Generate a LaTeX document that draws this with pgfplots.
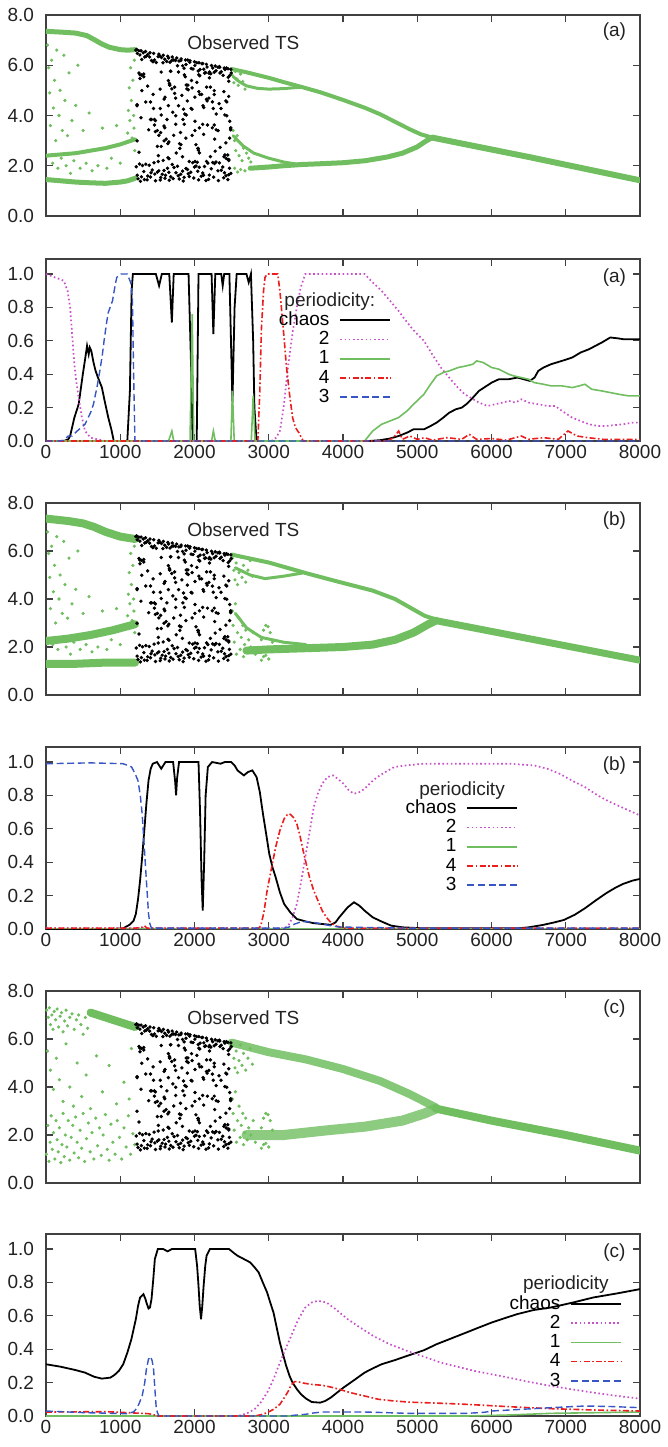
\documentclass[border=0pt]{standalone}
\usepackage{fontspec}
\setmainfont{Liberation Sans}
\usepackage{pgfplots}
\usepackage{pgfplotstable}
\pgfplotsset{compat=1.18}
\definecolor{gc}{RGB}{112,190,96}
\definecolor{mg}{RGB}{200,80,200}
\definecolor{rd}{RGB}{235,30,30}
\definecolor{bl}{RGB}{55,85,195}
\definecolor{axg}{RGB}{64,64,64}
\definecolor{txt}{RGB}{34,34,34}
\newcommand{\fs}{\fontsize{9.5}{11.4}\selectfont}

\pgfplotsset{
  base/.style={scale only axis, width=297pt, anchor=north west, xmin=0, xmax=8000,
    xtick={0,1000,2000,3000,4000,5000,6000,7000,8000},
    axis line style={axg, line width=0.65pt},
    tick style={axg, line width=0.6pt}, major tick length=3.5pt,
    tick label style={font=\fs, text=txt},
    yticklabel style={/pgf/number format/fixed, /pgf/number format/fixed zerofill,
      /pgf/number format/precision=1, /pgf/number format/assume math mode=true, xshift=-2.5pt},
    xticklabel style={/pgf/number format/1000 sep={}, /pgf/number format/assume math mode=true, yshift=1.5pt}},
  ts/.style={base, ymin=0, ymax=8, ytick={0,2,4,6,8}, xticklabels={}},
  pr/.style={base, ymin=0, ymax=1.09, ytick={0,0.2,0.4,0.6,0.8,1}, height=91pt,
    legend plot pos=right, legend cell align=right,
    legend style={draw=none, fill=none, font=\fs, inner sep=0pt, outer sep=0pt,
      row sep=0pt, column sep=4pt, nodes={inner sep=1pt, text height=6.4pt, text depth=1.2pt}},
    legend image code/.code={\draw[##1] (0pt,0pt) -- (25pt,0pt);}},
  band/.style={gc, line width=#1, line join=round, line cap=round},
  gdot/.style={only marks, mark=*, mark size=0.6pt, gc},
  kdot/.style={only marks, mark=*, mark size=0.65pt, black},
  chaosS/.style={black, line width=0.9pt},
  twoS/.style={mg, line width=0.85pt, dash pattern=on 0.8pt off 1.3pt},
  oneS/.style={gc, line width=0.8pt},
  fourS/.style={rd, line width=0.8pt, dash pattern=on 3pt off 1.2pt on 0.8pt off 1.2pt},
  threeS/.style={bl, line width=0.7pt, dash pattern=on 3.5pt off 1.8pt},
}

\begin{document}
% observed time series (black dots), shared by the three panels
\pgfplotstableread[row sep=\\]{x y\\
1210 6.60\\ 1230 6.47\\ 1250 6.58\\ 1265 6.41\\ 1290 6.23\\ 1310 6.50\\ 1330 6.33\\ 1350 6.36\\ 1370 6.43\\ 1395 6.33\\
1420 6.19\\ 1440 6.14\\ 1460 6.21\\ 1485 6.11\\ 1510 6.34\\ 1530 6.37\\ 1555 6.31\\ 1575 6.10\\ 1600 6.24\\ 1625 6.15\\
1650 6.29\\ 1670 6.12\\ 1695 6.19\\ 1720 6.21\\ 1745 6.19\\ 1770 5.98\\ 1790 6.17\\ 1815 6.19\\ 1840 5.98\\ 1860 5.88\\
1885 6.03\\ 1910 6.21\\ 1935 6.12\\ 1955 5.87\\ 1980 5.85\\ 2005 5.99\\ 2030 6.10\\ 2050 5.77\\ 2075 5.83\\ 2100 6.06\\
2125 5.84\\ 2150 5.71\\ 2170 5.93\\ 2195 5.68\\ 2220 5.66\\ 2245 5.89\\ 2265 5.72\\ 2290 5.78\\ 2315 5.92\\ 2335 5.95\\
2360 5.74\\ 2385 5.60\\ 2410 5.83\\ 2430 5.89\\ 2455 5.52\\ 2475 5.59\\ 2495 5.69\\
1220 6.63\\ 1280 6.58\\ 1340 6.55\\ 1400 6.50\\ 1450 6.47\\ 1520 6.44\\ 1580 6.40\\ 1640 6.36\\ 1700 6.33\\ 1760 6.29\\
1820 6.25\\ 1880 6.21\\ 1940 6.18\\ 2000 6.14\\ 2060 6.10\\ 2110 6.07\\ 2160 6.04\\ 2230 5.99\\ 2280 5.97\\ 2340 5.92\\
2400 5.89\\ 2450 5.86\\ 2490 5.84\\
1215 1.96\\ 1240 1.48\\ 1260 2.07\\ 1285 1.56\\ 1300 2.01\\ 1325 1.45\\ 1345 2.06\\ 1370 1.59\\ 1390 2.02\\ 1415 1.72\\
1430 1.83\\ 1455 2.12\\ 1475 1.40\\ 1500 1.75\\ 1520 1.80\\ 1545 1.53\\ 1565 1.66\\ 1590 1.81\\ 1610 1.62\\ 1635 1.90\\
1660 1.42\\ 1680 1.56\\ 1700 2.05\\ 1725 1.93\\ 1750 1.72\\ 1770 1.98\\ 1795 1.47\\ 1815 1.66\\ 1840 1.79\\ 1860 1.54\\
1885 1.89\\ 1905 1.85\\ 1930 1.57\\ 1950 1.74\\ 1975 2.12\\ 2000 1.95\\ 2020 1.99\\ 2045 1.78\\ 2065 1.94\\ 2090 1.58\\
2110 1.71\\ 2135 1.97\\ 2155 1.41\\ 2180 2.10\\ 2200 1.63\\ 2225 1.88\\ 2245 2.13\\ 2270 2.09\\ 2290 2.15\\ 2315 1.80\\
2335 2.11\\ 2360 1.82\\ 2380 1.95\\ 2405 1.72\\ 2425 1.60\\ 2450 1.45\\ 2470 1.90\\ 2490 1.70\\
1228 1.62\\ 1272 1.38\\ 1318 1.77\\ 1362 1.44\\ 1407 1.55\\ 1466 1.67\\ 1538 1.43\\ 1602 1.50\\ 1655 1.74\\ 1712 1.49\\
1781 1.60\\ 1848 1.39\\ 1915 1.68\\ 1990 1.51\\ 2055 1.44\\ 2122 1.62\\ 2190 1.46\\ 2258 1.55\\ 2322 1.41\\ 2393 1.52\\ 2462 1.64\\
2123 3.25\\ 2266 3.62\\ 2253 4.28\\ 2272 3.06\\ 2292 4.06\\ 1967 4.25\\ 1252 5.69\\ 1876 5.54\\ 1655 2.95\\ 1668 5.21\\
1226 4.39\\ 2331 4.47\\ 1811 3.32\\ 1369 5.17\\ 1884 3.10\\ 2058 5.62\\ 1512 2.17\\ 2461 5.36\\ 2175 3.62\\ 2136 5.69\\
1803 2.69\\ 1317 5.54\\ 1676 5.76\\ 2487 3.47\\ 2435 3.99\\ 2428 2.29\\ 2162 5.13\\ 2448 2.43\\ 2097 4.84\\ 2071 5.58\\
2006 3.77\\ 2201 5.50\\ 1520 3.21\\ 1291 4.99\\ 2050 2.69\\ 1590 3.58\\ 1648 4.39\\ 1662 5.28\\ 1818 2.84\\ 1960 5.39\\
1785 5.73\\ 2115 4.39\\ 1694 5.06\\ 1473 3.36\\ 2214 5.13\\ 1870 4.06\\ 1863 3.65\\ 2066 2.51\\ 1746 4.69\\ 2170 4.58\\
1551 5.73\\ 1798 2.88\\
1603 4.73\\ 1733 5.13\\ 1967 5.10\\ 1538 5.05\\ 1889 5.21\\ 1954 4.28\\ 2461 2.25\\ 2409 4.02\\ 1499 3.40\\ 2292 3.43\\
2006 2.17\\ 2032 5.32\\ 1629 3.84\\ 2279 2.58\\ 1551 4.02\\ 2435 4.54\\ 1226 2.99\\ 2344 5.69\\ 1733 4.88\\ 2461 4.76\\
1408 3.84\\ 2409 2.43\\ 2487 3.43\\ 1681 5.76\\ 1863 5.62\\ 1265 5.62\\ 2266 4.84\\ 1317 5.65\\ 2162 4.65\\ 2422 4.58\\
1785 4.39\\ 2396 4.95\\ 1590 2.99\\ 2214 2.36\\ 1408 4.54\\ 1720 3.21\\ 2006 3.40\\ 2318 3.40\\ 1460 3.84\\ 2357 4.28\\
2474 3.77\\ 2006 4.73\\ 2240 3.51\\ 1642 2.88\\ 2266 4.99\\ 1889 4.02\\ 1746 3.99\\ 1343 4.54\\ 2110 3.65\\ 2071 4.84\\
2474 3.10\\ 1473 3.80\\
1591 4.65\\ 1448 4.28\\ 1461 3.62\\ 1442 4.84\\ 1422 3.84\\ 1747 3.65\\ 2462 2.21\\ 1838 2.36\\ 2059 4.95\\ 2046 2.69\\
2488 3.51\\ 1383 3.43\\ 1903 4.58\\ 2345 2.73\\ 1830 4.80\\ 1656 2.28\\ 2202 5.73\\ 1253 2.54\\ 1539 4.28\\ 1578 2.21\\
1911 5.21\\ 2397 2.36\\ 2038 2.14\\ 1227 4.43\\ 1279 3.91\\ 1286 5.61\\ 1552 2.77\\ 1266 5.47\\ 1617 3.06\\ 1643 2.32\\
1708 4.13\\ 1513 2.40\\ 2194 4.69\\ 2423 2.91\\ 1664 5.21\\ 2124 4.32\\ 2066 3.51\\ 2052 2.62\\ 1896 5.06\\ 1754 2.51\\
1929 2.17\\ 1599 3.51\\ 2020 2.84\\ 2241 4.54\\ 1500 2.77\\ 1844 3.84\\ 1851 4.25\\ 1648 5.39\\ 1968 3.21\\ 1544 3.32\\
2163 2.17\\ 1916 5.02\\
}\blackts

% green scatter left of the observed window, panels (a) and (b)
\pgfplotstableread[row sep=\\]{x y\\
20 6.8\\ 35 5.9\\ 50 4.9\\ 60 3.6\\ 75 6.2\\ 90 2.1\\ 100 4.3\\ 115 5.4\\ 130 3.0\\ 145 6.6\\
160 1.9\\ 175 4.0\\ 190 5.0\\ 205 2.3\\ 220 3.4\\ 240 6.4\\ 255 4.6\\ 270 2.0\\ 290 3.2\\ 310 5.7\\
330 1.7\\ 350 3.8\\ 375 2.2\\ 400 4.4\\ 430 6.0\\ 460 1.9\\ 500 3.4\\ 540 2.1\\ 580 4.1\\ 620 1.8\\
700 2.0\\ 760 3.5\\ 820 1.9\\ 880 2.3\\ 950 3.6\\ 1000 2.1\\ 1100 3.3\\ 1110 4.2\\ 1120 5.1\\ 1130 3.8\\
1140 5.9\\ 1150 4.6\\ 1160 3.1\\ 1170 5.4\\ 1180 4.0\\ 1190 6.2\\ 1195 2.6\\ 1185 3.5\\
}\gleft

% green scatter right of the observed window, panel (a)
\pgfplotstableread[row sep=\\]{x y\\
2510 5.6\\ 2530 5.3\\ 2550 5.75\\ 2570 5.45\\ 2590 5.2\\ 2620 5.65\\ 2650 5.35\\ 2680 5.05\\
2520 3.4\\ 2540 3.0\\ 2555 2.6\\ 2575 3.2\\ 2600 2.4\\ 2620 2.9\\ 2640 2.2\\ 2660 2.7\\ 2700 2.5\\
2730 2.3\\ 2760 2.15\\ 2540 1.9\\ 2580 1.75\\ 2620 1.85\\ 2680 1.8\\
}\gtrA

% green scatter right of the observed window, panels (b) and (c)
\pgfplotstableread[row sep=\\]{x y\\
2510 5.7\\ 2530 5.2\\ 2545 4.8\\ 2560 5.5\\ 2580 4.6\\ 2600 5.1\\ 2620 5.75\\ 2640 4.9\\ 2660 5.4\\
2690 4.7\\ 2720 5.2\\ 2750 5.6\\ 2780 4.95\\
2510 3.5\\ 2520 2.9\\ 2535 2.2\\ 2550 3.8\\ 2565 1.7\\ 2580 2.6\\ 2600 3.2\\ 2615 1.9\\ 2630 2.4\\
2650 2.9\\ 2660 1.6\\ 2675 2.1\\ 2690 2.7\\ 2710 1.8\\ 2730 2.3\\ 2760 2.0\\ 2790 2.6\\ 2820 1.7\\
2900 2.3\\ 2930 2.7\\ 2960 2.9\\ 2990 2.85\\ 3020 2.6\\ 3050 2.2\\ 2900 1.45\\ 2930 1.6\\ 2960 1.65\\ 3000 1.5\\
}\gtrB

% green scatter left of the observed window, panel (c)
\pgfplotstableread[row sep=\\]{x y\\
10 7.2\\ 30 6.9\\ 45 7.3\\ 60 6.6\\ 80 7.0\\ 95 6.4\\ 110 7.15\\ 130 6.8\\ 150 7.25\\ 170 6.5\\
190 6.95\\ 210 7.1\\ 230 6.3\\ 250 6.75\\ 270 7.2\\ 290 6.55\\ 320 6.9\\ 350 7.05\\ 380 6.4\\ 410 6.8\\
440 7.0\\ 470 6.6\\ 500 6.2\\ 530 6.9\\ 560 6.45\\
20 5.5\\ 60 4.7\\ 100 3.9\\ 140 5.2\\ 180 4.3\\ 230 3.4\\ 270 5.8\\ 320 4.0\\ 370 3.2\\ 420 5.0\\
480 3.6\\ 540 4.5\\ 600 3.1\\ 680 5.3\\ 760 3.8\\ 850 4.9\\ 950 3.3\\ 1050 4.2\\ 1150 5.6\\ 1120 3.5\\
5 1.2\\ 25 2.4\\ 40 0.9\\ 55 1.7\\ 70 2.8\\ 85 1.4\\ 100 2.1\\ 120 1.0\\ 135 2.6\\ 150 1.8\\
165 1.3\\ 180 2.3\\ 200 0.85\\ 215 1.6\\ 230 2.9\\ 245 1.1\\ 260 2.0\\ 280 1.5\\ 300 2.6\\ 320 0.95\\
340 1.9\\ 360 2.4\\ 380 1.25\\ 400 2.75\\ 420 1.7\\ 440 1.05\\ 460 2.2\\ 480 1.45\\ 500 2.9\\ 520 0.9\\
545 1.85\\ 570 2.5\\ 595 1.3\\ 620 2.1\\ 645 1.0\\ 670 2.7\\ 695 1.55\\ 720 2.3\\ 745 1.15\\ 770 2.0\\
800 2.85\\ 825 1.4\\ 850 0.95\\ 875 2.45\\ 900 1.7\\ 930 1.2\\ 960 2.6\\ 990 1.9\\ 1020 1.0\\ 1050 2.3\\
1080 1.5\\ 1110 2.8\\ 1140 1.2\\ 1170 2.05\\ 1195 1.6\\
}\gleftC

\begin{tikzpicture}
\path (-23pt,0pt) rectangle (308.5pt,-723.5pt);

% ---------- (a) time series ----------
\begin{axis}[ts, at={(0pt,-7.5pt)}, height=100.5pt]
\addplot[band=2.5pt] coordinates {(0,7.35)(200,7.32)(400,7.28)(550,7.18)(650,7.02)(750,6.85)(850,6.72)(1000,6.62)(1100,6.6)(1200,6.62)};
\addplot[band=2.5pt] coordinates {(0,1.45)(200,1.4)(400,1.35)(600,1.32)(800,1.3)(1000,1.35)(1100,1.4)(1200,1.5)};
\addplot[band=2pt] coordinates {(0,2.4)(200,2.45)(400,2.5)(600,2.6)(800,2.7)(1000,2.85)(1200,3.05)};
\addplot[band=2pt] coordinates {(2500,5.85)(2700,5.72)(3000,5.5)(3200,5.33)(3450,5.13)(3700,4.92)(4000,4.62)(4300,4.3)(4500,4.05)(4700,3.75)(4900,3.45)(5050,3.25)(5200,3.12)};
\addplot[band=1.5pt] coordinates {(2520,5.55)(2600,5.35)(2700,5.18)(2850,5.08)(3000,5.05)(3200,5.07)(3450,5.13)};
\addplot[band=2.5pt] coordinates {(2750,1.9)(3000,1.95)(3200,2.0)(3450,2.05)(3700,2.08)(4000,2.12)(4300,2.2)(4600,2.35)(4800,2.5)(5000,2.75)(5100,2.95)(5200,3.12)};
\addplot[band=1.5pt] coordinates {(2520,3.2)(2650,2.8)(2800,2.5)(3000,2.3)(3200,2.15)(3400,2.05)};
\addplot[band=3pt] coordinates {(5200,3.12)(6500,2.35)(8000,1.42)};
\addplot[gdot] table {\gleft};
\addplot[gdot] table {\gtrA};
\addplot[kdot] table {\blackts};
\node[font=\fs, text=txt, anchor=west] at (axis cs:1809,6.88) {Observed TS};
\node[font=\fs, text=txt] at (rel axis cs:0.957,0.917) {(a)};
\end{axis}

% ---------- (a) probabilities ----------
\begin{axis}[pr, at={(0pt,-129.5pt)},
  legend style={at={(axis cs:4650,0.78)}, anchor=north east}]
\addplot[chaosS] coordinates {(0,0)(240,0)(300,0.01)(325,0.03)(382,0.14)(440,0.22)(496,0.40)(530,0.50)(553,0.57)(575,0.52)(590,0.56)(610,0.54)(640,0.47)(668,0.42)(700,0.38)(753,0.32)(790,0.24)(839,0.14)(880,0.07)(913,0)(1095,0)(1130,0.3)(1153,0.9)(1170,1.0)(1480,1.0)(1523,0.93)(1560,1.0)(1660,1.0)(1695,0.71)(1720,1.0)(1920,1.0)(1951,0.5)(1975,0)(2030,0)(2054,1.0)(2230,1.0)(2254,0.64)(2280,1.0)(2360,1.0)(2380,0.93)(2400,1.0)(2470,1.0)(2511,0.23)(2540,0.8)(2568,1.0)(2700,1.0)(2730,0.95)(2760,1.0)(2790,0.6)(2807,0.2)(2836,0)(4350,0)(4500,0.005)(4633,0.015)(4750,0.03)(4862,0.05)(4950,0.07)(5090,0.07)(5180,0.09)(5261,0.11)(5350,0.14)(5432,0.17)(5520,0.19)(5600,0.20)(5660,0.22)(5750,0.26)(5831,0.30)(5900,0.32)(6003,0.35)(6100,0.37)(6231,0.37)(6350,0.38)(6516,0.36)(6580,0.38)(6630,0.42)(6700,0.44)(6802,0.46)(6950,0.48)(7087,0.50)(7200,0.53)(7315,0.55)(7400,0.57)(7486,0.59)(7600,0.62)(7700,0.615)(7772,0.61)(7900,0.61)(8000,0.61)};
\addlegendentry{chaos}
\addplot[twoS] coordinates {(0,1.0)(120,0.98)(240,0.96)(290,0.9)(325,0.8)(350,0.65)(382,0.46)(410,0.35)(440,0.26)(480,0.15)(525,0.06)(600,0.02)(696,0.01)(800,0)(3036,0)(3100,0.02)(3150,0.06)(3200,0.2)(3264,0.46)(3321,0.65)(3378,0.8)(3430,0.92)(3492,1.0)(4291,1.0)(4400,0.95)(4519,0.9)(4633,0.84)(4747,0.78)(4830,0.73)(4919,0.68)(5000,0.64)(5090,0.6)(5200,0.52)(5318,0.44)(5430,0.38)(5546,0.32)(5640,0.28)(5717,0.26)(5830,0.23)(5946,0.21)(6050,0.22)(6150,0.23)(6231,0.24)(6320,0.23)(6402,0.25)(6500,0.23)(6630,0.22)(6750,0.21)(6858,0.21)(6950,0.18)(7087,0.14)(7200,0.12)(7315,0.10)(7430,0.09)(7543,0.09)(7650,0.095)(7772,0.10)(7900,0.11)(8000,0.11)};
\addlegendentry{2}
\addplot[oneS] coordinates {(0,0)(1650,0)(1695,0.06)(1720,0)(1940,0)(1969,0.76)(1990,0)(2230,0)(2254,0.06)(2280,0)(2490,0)(2511,0.3)(2535,0)(2765,0)(2790,0.27)(2815,0)(4291,0)(4400,0.06)(4519,0.10)(4633,0.12)(4747,0.14)(4862,0.18)(4950,0.22)(5090,0.28)(5180,0.34)(5261,0.39)(5350,0.41)(5432,0.42)(5550,0.44)(5660,0.45)(5750,0.46)(5800,0.48)(5888,0.47)(6003,0.44)(6100,0.43)(6231,0.40)(6300,0.39)(6402,0.38)(6500,0.37)(6573,0.35)(6700,0.34)(6802,0.33)(6950,0.33)(7087,0.32)(7180,0.33)(7258,0.34)(7350,0.31)(7486,0.30)(7600,0.29)(7715,0.28)(7850,0.27)(8000,0.27)};
\addlegendentry{1}
\addplot[fourS] coordinates {(0,0)(2853,0)(2880,0.3)(2900,0.66)(2930,0.9)(2950,0.98)(2978,1.0)(3121,1.0)(3150,0.9)(3178,0.76)(3210,0.6)(3235,0.46)(3280,0.28)(3321,0.14)(3360,0.08)(3406,0.05)(3463,0)(4600,0)(4680,0.02)(4750,0.06)(4800,0.01)(4900,0.03)(5000,0.01)(5100,0.02)(5200,0.005)(5400,0.02)(5600,0.01)(5700,0.04)(5800,0.01)(6000,0.015)(6200,0.005)(6400,0.03)(6500,0.01)(6700,0.02)(6900,0.01)(7030,0.06)(7150,0.03)(7300,0.02)(7500,0.01)(8000,0.01)};
\addlegendentry{4}
\addplot[threeS] coordinates {(0,0)(180,0)(240,0.005)(297,0.03)(353,0.03)(420,0.06)(525,0.10)(600,0.17)(639,0.22)(690,0.33)(725,0.42)(760,0.52)(782,0.60)(820,0.72)(839,0.77)(896,0.84)(930,0.93)(953,0.98)(1010,1.0)(1095,1.0)(1140,0.95)(1164,0.86)(1180,0.4)(1198,0)(8000,0)};
\addlegendentry{3}
\node[font=\fs, text=txt] at (axis cs:3823,0.835) {periodicity:};
\node[font=\fs, text=txt] at (rel axis cs:0.957,0.9) {(a)};
\end{axis}

% ---------- (b) time series ----------
\begin{axis}[ts, at={(0pt,-251.5pt)}, height=96pt]
\addplot[band=4pt] coordinates {(0,7.35)(300,7.25)(500,7.15)(650,7.0)(800,6.8)(1000,6.6)(1200,6.5)};
\addplot[band=4pt] coordinates {(0,1.3)(400,1.3)(800,1.35)(1200,1.35)};
\addplot[band=4pt] coordinates {(0,2.25)(300,2.35)(600,2.5)(900,2.7)(1200,2.95)};
\addplot[band=2pt] coordinates {(2500,5.85)(3000,5.52)(3500,5.08)(3900,4.75)(4400,4.35)(4700,4.0)(4900,3.65)(5100,3.3)(5250,3.15)};
\addplot[band=1.5pt] coordinates {(2550,5.3)(2750,5.0)(2950,4.85)(3200,4.95)(3450,5.08)};
\addplot[band=4pt] coordinates {(2700,1.85)(3000,1.9)(3500,1.95)(4000,2.0)(4400,2.1)(4700,2.3)(4950,2.6)(5150,2.95)(5250,3.1)};
\addplot[band=1.5pt] coordinates {(2550,3.4)(2700,2.8)(2900,2.4)(3200,2.2)(3500,2.1)};
\addplot[band=3.5pt] coordinates {(5250,3.1)(6500,2.35)(8000,1.45)};
\addplot[gdot] table {\gleft};
\addplot[gdot] table {\gtrB};
\addplot[kdot] table {\blackts};
\node[font=\fs, text=txt, anchor=west] at (axis cs:1809,6.89) {Observed TS};
\node[font=\fs, text=txt] at (rel axis cs:0.957,0.91) {(b)};
\end{axis}

% ---------- (b) probabilities ----------
\begin{axis}[pr, at={(0pt,-373.5pt)},
  legend style={at={(axis cs:6360,0.78)}, anchor=north east}]
\addplot[chaosS] coordinates {(0,0)(924,0)(1038,0.004)(1124,0.025)(1180,0.05)(1210,0.09)(1240,0.18)(1267,0.29)(1295,0.43)(1324,0.59)(1352,0.75)(1381,0.89)(1410,0.96)(1438,0.99)(1495,1.0)(1552,0.96)(1609,1.0)(1712,1.0)(1740,0.88)(1752,0.80)(1765,0.9)(1792,1.0)(2054,1.0)(2075,0.7)(2095,0.3)(2111,0.11)(2130,0.4)(2150,0.8)(2180,0.97)(2237,1.0)(2351,0.99)(2408,1.0)(2494,1.0)(2540,0.98)(2579,0.95)(2665,0.92)(2720,0.94)(2779,0.95)(2836,0.91)(2880,0.82)(2922,0.69)(2965,0.57)(3007,0.45)(3050,0.37)(3093,0.31)(3150,0.22)(3207,0.15)(3290,0.1)(3378,0.06)(3500,0.045)(3606,0.035)(3720,0.03)(3834,0.025)(3900,0.04)(3949,0.07)(4006,0.1)(4063,0.13)(4148,0.16)(4220,0.14)(4291,0.11)(4400,0.07)(4519,0.045)(4650,0.02)(4804,0.01)(5090,0.004)(6345,0.004)(6500,0.01)(6688,0.024)(6850,0.04)(6973,0.054)(7120,0.085)(7258,0.124)(7400,0.17)(7543,0.214)(7660,0.245)(7772,0.27)(7900,0.29)(8000,0.30)};
\addlegendentry{chaos}
\addplot[twoS] coordinates {(0,0.005)(3207,0.005)(3264,0.02)(3320,0.07)(3378,0.15)(3435,0.28)(3492,0.43)(3550,0.58)(3606,0.73)(3660,0.81)(3720,0.87)(3790,0.91)(3863,0.92)(3930,0.90)(4006,0.87)(4080,0.83)(4148,0.81)(4220,0.82)(4291,0.84)(4380,0.88)(4462,0.91)(4570,0.94)(4690,0.97)(4850,0.98)(5090,0.99)(5660,0.99)(6231,0.99)(6573,0.98)(6750,0.96)(6916,0.93)(7080,0.89)(7258,0.85)(7430,0.80)(7600,0.76)(7800,0.72)(8000,0.68)};
\addlegendentry{2}
\addplot[oneS] coordinates {(0,0.002)(8000,0.002)};
\addlegendentry{1}
\addplot[fourS] coordinates {(0,0.005)(1200,0.005)(1290,0.01)(1324,0.02)(1360,0.005)(2864,0.005)(2893,0.02)(2935,0.1)(2978,0.23)(3035,0.36)(3093,0.49)(3150,0.59)(3207,0.66)(3250,0.685)(3281,0.69)(3330,0.67)(3378,0.63)(3420,0.56)(3463,0.47)(3505,0.39)(3549,0.31)(3606,0.23)(3663,0.17)(3720,0.11)(3777,0.07)(3834,0.04)(3892,0.02)(4006,0.005)(8000,0.005)};
\addlegendentry{4}
\addplot[threeS] coordinates {(0,0.99)(600,0.995)(1038,0.99)(1100,0.98)(1153,0.97)(1200,0.93)(1238,0.89)(1270,0.8)(1295,0.69)(1324,0.49)(1352,0.29)(1381,0.09)(1400,0.03)(1421,0.005)(3200,0.005)(3264,0.01)(3350,0.03)(3430,0.042)(3492,0.044)(3600,0.04)(3720,0.03)(3830,0.02)(3949,0.012)(4500,0.008)(5000,0.005)(8000,0.005)};
\addlegendentry{3}
\node[font=\fs, text=txt] at (axis cs:5603,0.83) {periodicity};
\node[font=\fs, text=txt] at (rel axis cs:0.957,0.9) {(b)};
\end{axis}

% ---------- (c) time series ----------
\begin{axis}[ts, at={(0pt,-495.5pt)}, height=96pt]
\addplot[band=4pt] coordinates {(600,7.1)(800,6.9)(1000,6.7)(1200,6.5)};
\addplot[band=4pt, opacity=0.85] coordinates {(2500,5.85)(3000,5.45)(3500,5.15)(4000,4.75)(4500,4.25)(4900,3.7)(5250,3.15)};
\addplot[band=5pt, opacity=0.8] coordinates {(2700,2.0)(3200,2.0)(3800,2.2)(4300,2.35)(4800,2.6)(5100,2.9)(5250,3.1)};
\addplot[band=4pt] coordinates {(5250,3.1)(6000,2.6)(7000,2.0)(8000,1.35)};
\addplot[gdot] table {\gleftC};
\addplot[gdot] table {\gtrB};
\addplot[kdot] table {\blackts};
\node[font=\fs, text=txt, anchor=west] at (axis cs:1809,6.89) {Observed TS};
\node[font=\fs, text=txt] at (rel axis cs:0.957,0.91) {(c)};
\end{axis}

% ---------- (c) probabilities ----------
\begin{axis}[pr, at={(0pt,-617pt)},
  legend style={at={(axis cs:7760,0.728)}, anchor=north east}]
\addplot[chaosS] coordinates {(0,0.31)(200,0.295)(400,0.275)(525,0.26)(650,0.235)(753,0.224)(867,0.23)(920,0.245)(981,0.27)(1040,0.31)(1096,0.38)(1150,0.46)(1210,0.58)(1240,0.66)(1267,0.71)(1312,0.73)(1340,0.70)(1352,0.68)(1381,0.644)(1400,0.65)(1421,0.70)(1445,0.82)(1466,0.94)(1506,1.0)(1580,1.0)(1638,0.986)(1695,1.0)(2009,1.0)(2035,0.9)(2054,0.78)(2070,0.66)(2088,0.58)(2105,0.66)(2123,0.78)(2145,0.9)(2163,0.96)(2208,1.0)(2465,1.0)(2520,0.98)(2579,0.96)(2665,0.94)(2750,0.92)(2810,0.89)(2864,0.86)(2920,0.8)(2978,0.74)(3020,0.68)(3064,0.62)(3107,0.53)(3150,0.44)(3192,0.37)(3235,0.30)(3280,0.24)(3321,0.20)(3380,0.16)(3435,0.13)(3500,0.105)(3578,0.084)(3692,0.08)(3760,0.09)(3834,0.11)(3920,0.14)(4006,0.17)(4150,0.215)(4291,0.26)(4400,0.285)(4519,0.31)(4700,0.335)(4862,0.36)(5090,0.394)(5260,0.43)(5432,0.46)(5660,0.50)(5830,0.53)(6003,0.56)(6170,0.585)(6345,0.61)(6570,0.635)(6802,0.65)(7100,0.68)(7372,0.71)(7700,0.735)(8000,0.76)};
\addlegendentry{chaos}
\addplot[twoS] coordinates {(0,0)(2579,0)(2700,0.015)(2807,0.04)(2890,0.08)(2978,0.14)(3064,0.22)(3150,0.32)(3235,0.41)(3321,0.50)(3400,0.58)(3492,0.65)(3580,0.68)(3663,0.69)(3777,0.68)(3900,0.64)(4063,0.58)(4230,0.53)(4405,0.48)(4630,0.43)(4862,0.39)(5090,0.355)(5318,0.32)(5540,0.295)(5774,0.27)(6000,0.25)(6231,0.23)(6500,0.205)(6802,0.18)(7080,0.16)(7372,0.14)(7700,0.12)(8000,0.104)};
\addlegendentry{2}
\addplot[oneS] coordinates {(0,0)(5660,0)(6231,0.006)(6802,0.016)(7400,0.02)(8000,0.024)};
\addlegendentry{1}
\addplot[fourS] coordinates {(0,0.024)(400,0.025)(810,0.026)(1100,0.02)(1381,0.014)(1450,0.008)(1495,0)(2807,0)(2900,0.008)(2978,0.02)(3064,0.04)(3150,0.07)(3210,0.11)(3264,0.15)(3300,0.185)(3350,0.206)(3400,0.205)(3435,0.2)(3560,0.19)(3720,0.184)(3850,0.172)(3949,0.16)(4100,0.14)(4291,0.12)(4480,0.1)(4690,0.09)(4900,0.083)(5090,0.08)(5400,0.075)(5660,0.07)(5950,0.063)(6231,0.056)(6500,0.05)(6802,0.044)(7100,0.04)(7372,0.036)(7700,0.033)(8000,0.03)};
\addlegendentry{4}
\addplot[threeS] coordinates {(0,0.03)(525,0.02)(1096,0.014)(1180,0.025)(1210,0.04)(1250,0.07)(1295,0.12)(1330,0.2)(1352,0.28)(1380,0.34)(1409,0.356)(1430,0.33)(1449,0.28)(1465,0.17)(1483,0.06)(1500,0.02)(1523,0)(3264,0)(3350,0.005)(3492,0.01)(3600,0.018)(3720,0.024)(4291,0.024)(4600,0.02)(4862,0.016)(5660,0.016)(5900,0.022)(6003,0.03)(6400,0.04)(6802,0.05)(7258,0.06)(7600,0.057)(8000,0.05)};
\addlegendentry{3}
\node[font=\fs, text=txt] at (axis cs:7001,0.79) {periodicity};
\node[font=\fs, text=txt] at (rel axis cs:0.957,0.9) {(c)};
\end{axis}
\end{tikzpicture}
\end{document}
